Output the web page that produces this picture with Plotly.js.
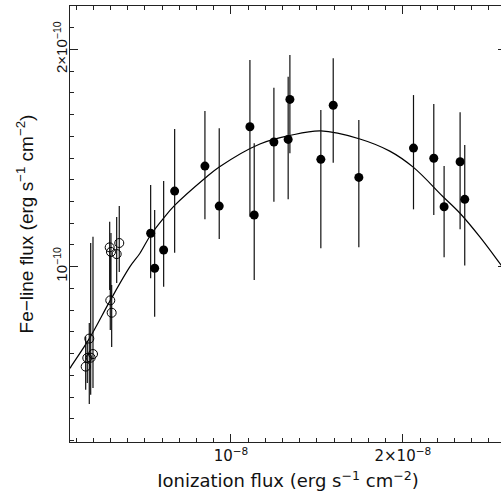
<!DOCTYPE html>
<html>
<head>
<meta charset="utf-8">
<script src="https://cdn.plot.ly/plotly-3.0.1.min.js"></script>
<style>
html,body{margin:0;padding:0;overflow:hidden;background:#fff;}
#chart{width:530px;height:494px;}
</style>
</head>
<body>
<div id="chart"></div>
<script>
// Units: x in 1e-9 erg s^-1 cm^-2, y in 1e-11 erg s^-1 cm^-2
// Open circles
const openX  = [2.948, 3.023, 3.355, 3.506, 2.983, 3.064, 1.762, 1.645, 1.843, 1.977, 1.552];
const openY  = [10.89, 10.68, 10.58, 11.09, 8.45, 7.88, 6.69, 5.80, 5.81, 5.98, 5.40];
const openHi = [12.07, 11.55, 12.29, 12.79, 10.54, 9.16, 7.41, 6.49, 11.09, 11.38, 6.79];
const openLo = [8.93, 8.47, 9.25, 9.76, 7.09, 6.30, 3.68, 4.65, 4.10, 4.42, 4.33];

// Filled circles
const fillX  = [5.331, 5.564, 6.087, 6.727, 8.488, 9.320, 11.105, 11.355, 12.50, 13.43, 13.33, 15.23, 15.95, 17.44, 20.62, 21.80, 22.40, 23.33, 23.60];
const fillY  = [11.54, 9.93, 10.77, 13.48, 14.63, 12.79, 16.44, 12.38, 15.74, 17.70, 15.86, 14.94, 17.43, 14.11, 15.46, 14.99, 12.76, 14.83, 13.10];
const fillHi = [13.76, 12.61, 13.94, 16.34, 17.17, 16.37, 19.51, 15.68, 18.24, 19.74, 18.74, 17.21, 19.59, 16.75, 17.90, 17.49, 14.63, 17.11, 15.60];
const fillLo = [9.47, 7.70, 9.08, 10.64, 12.18, 11.27, 12.30, 9.39, 12.99, 15.22, 13.10, 10.85, 14.79, 10.89, 12.64, 12.38, 10.43, 11.72, 10.05];

// Model curve
const curveX = [0.64, 0.698, 1.762, 2.983, 4.128, 4.709, 5.331, 6.087, 6.727, 8.488, 9.32, 11.686, 13.43, 15.23, 17.50, 19.24, 20.62, 22.34, 23.31, 24.48, 25.76, 26.0];
const curveY = [5.32, 5.40, 6.69, 8.45, 10.00, 10.62, 11.46, 12.24, 12.82, 14.07, 14.59, 15.65, 16.04, 16.25, 15.88, 15.32, 14.57, 13.22, 12.47, 11.37, 10.03, 9.78];

const xTickVals = [10, 20];
const xTickText = ['10<sup>−8</sup>', '2×10<sup>−8</sup>'];
const yTickVals = [10, 20];
const yTickText = ['10<sup>−10</sup>', '2×10<sup>−10</sup>'];

function diff(a, b) { return a.map((v, i) => v - b[i]); }

const errStyle = {type: 'data', symmetric: false, width: 0, thickness: 1.2, color: '#111'};

const traces = [
  {
    x: curveX, y: curveY, mode: 'lines', type: 'scatter',
    line: {color: '#000', width: 1.2, shape: 'spline', smoothing: 1},
    hoverinfo: 'skip', showlegend: false
  },
  {
    x: openX, y: openY, mode: 'markers', type: 'scatter',
    marker: {symbol: 'circle-open', size: 9, color: '#000', line: {width: 1, color: '#000'}},
    error_y: Object.assign({}, errStyle, {array: diff(openHi, openY), arrayminus: diff(openY, openLo)}),
    showlegend: false
  },
  {
    x: fillX, y: fillY, mode: 'markers', type: 'scatter',
    marker: {symbol: 'circle', size: 9, color: '#000'},
    error_y: Object.assign({}, errStyle, {array: diff(fillHi, fillY), arrayminus: diff(fillY, fillLo)}),
    showlegend: false
  }
];

const axisCommon = {
  showline: true, linecolor: '#222', linewidth: 1, mirror: 'allticks',
  ticks: 'inside', ticklen: 8, tickcolor: '#222', tickwidth: 1,
  showgrid: false, zeroline: false
};

const layout = {
  width: 530, height: 494,
  margin: {l: 70, r: 24, t: 6, b: 52},
  paper_bgcolor: '#fff', plot_bgcolor: '#fff',
  showlegend: false,
  xaxis: Object.assign({}, axisCommon, {
    range: [0.64, 26.0], tickmode: 'array', tickvals: xTickVals, ticktext: xTickText,
    tickfont: {family: 'DejaVu Sans, sans-serif', size: 15, color: '#111'},
    minor: {dtick: 1, tick0: 0, ticks: 'inside', ticklen: 4, tickcolor: '#222', showgrid: false},
    title: {text: 'Ionization flux (erg s<sup>−1</sup> cm<sup>−2</sup>)', standoff: 10,
      font: {family: 'DejaVu Sans, sans-serif', size: 18, color: '#111'}}
  }),
  yaxis: Object.assign({}, axisCommon, {
    range: [1.93, 22.0], tickmode: 'array', tickvals: yTickVals, ticktext: yTickText,
    tickangle: -90, ticklabelstandoff: -4,
    tickfont: {family: 'Liberation Sans, Arial, sans-serif', size: 15, color: '#111'},
    minor: {dtick: 1, tick0: 0, ticks: 'inside', ticklen: 4, tickcolor: '#222', showgrid: false},
    title: {text: 'Fe−line flux (erg s<sup>−1</sup> cm<sup>−2</sup>)', standoff: 12,
      font: {family: 'Liberation Sans, Arial, sans-serif', size: 19, color: '#111'}}
  })
};

Plotly.newPlot('chart', traces, layout, {displayModeBar: false, staticPlot: true});
</script>
</body>
</html>
